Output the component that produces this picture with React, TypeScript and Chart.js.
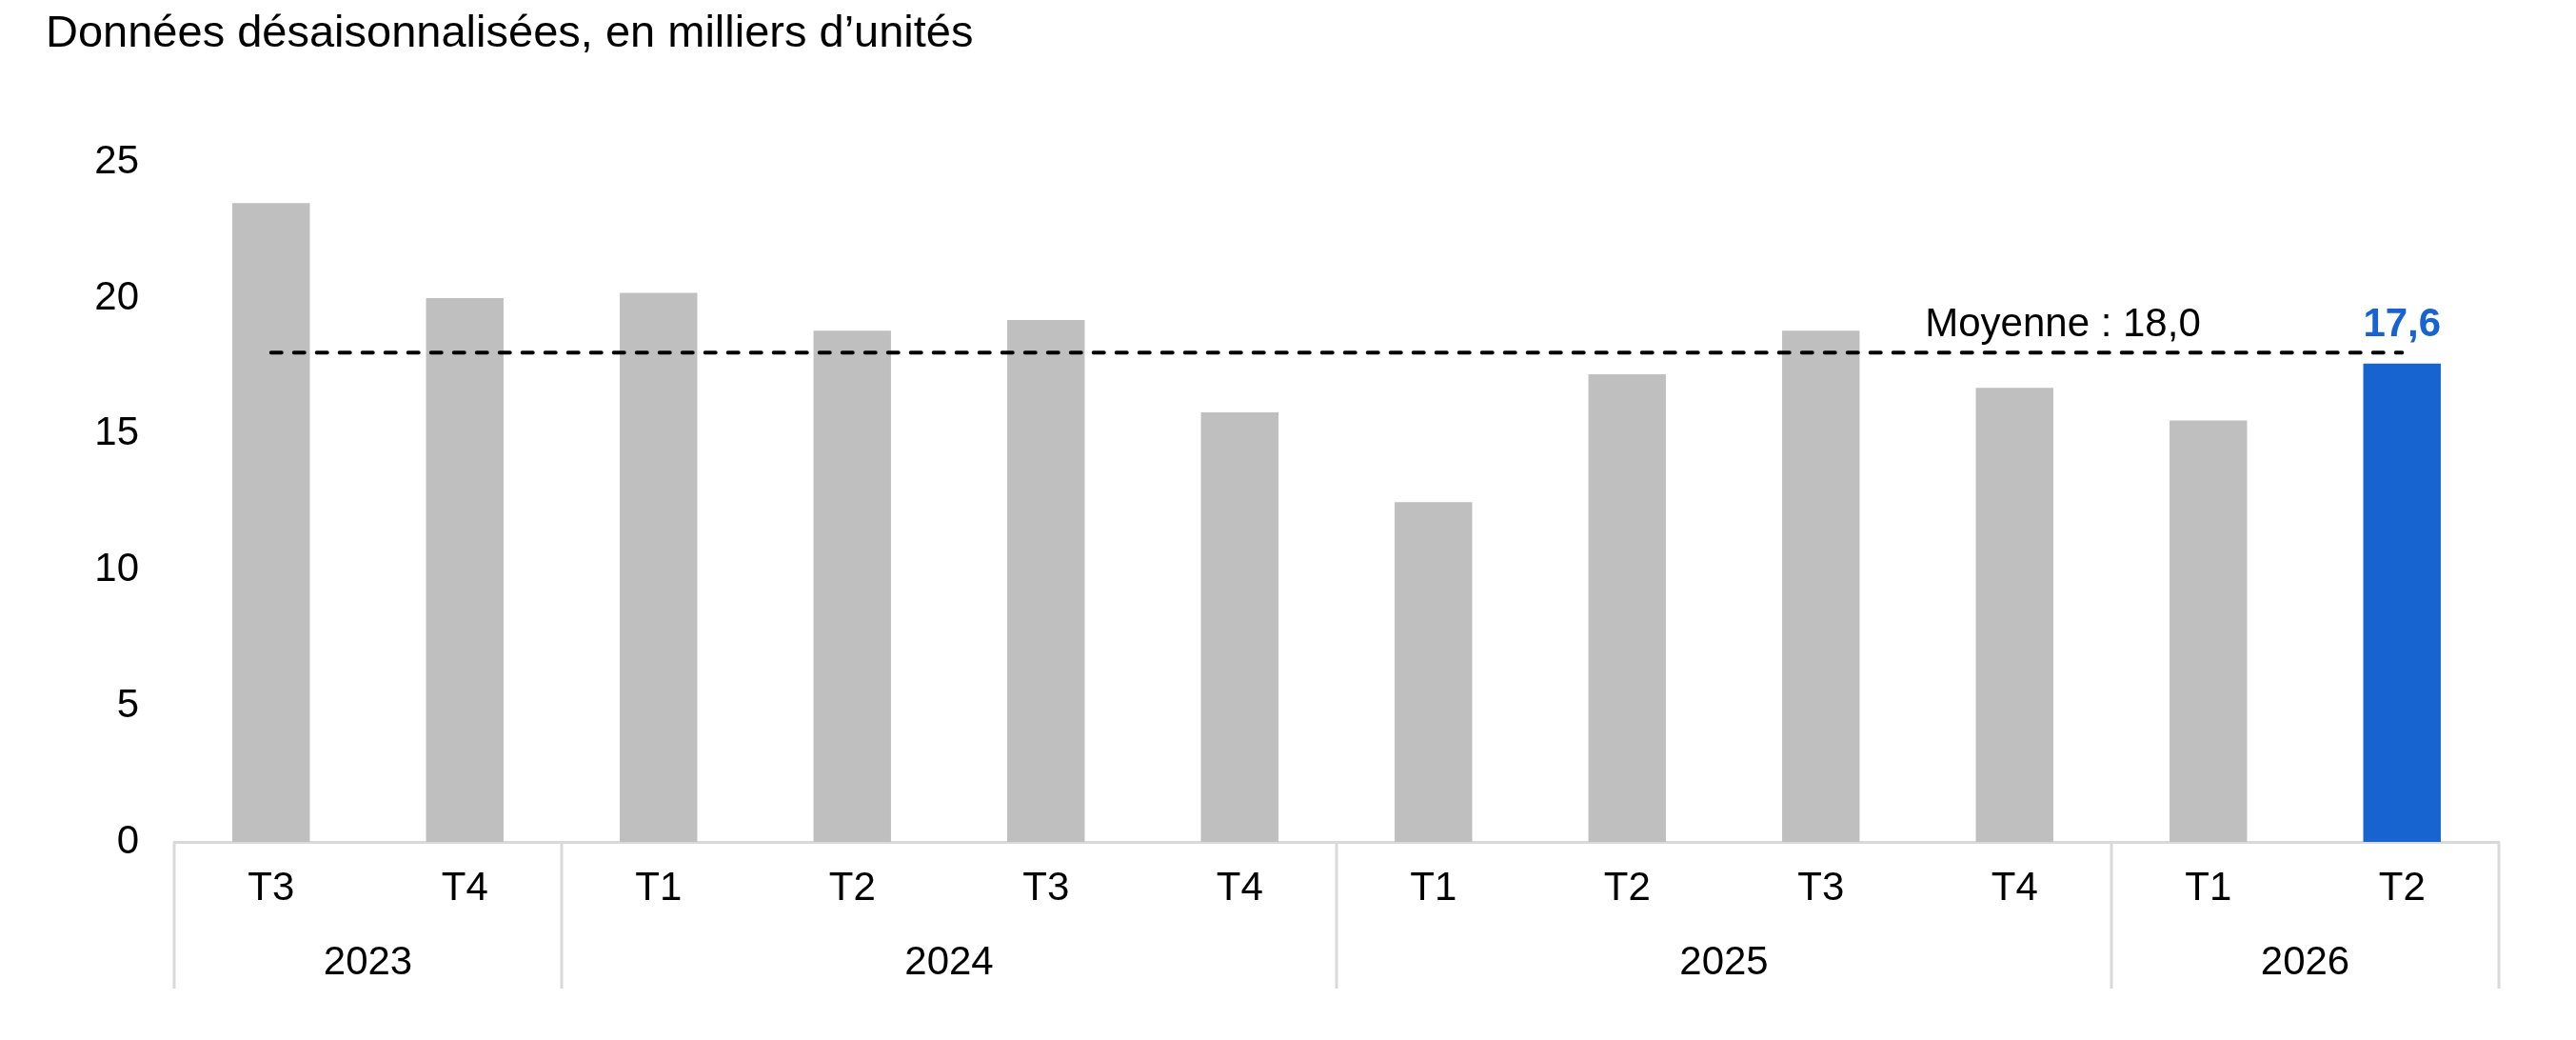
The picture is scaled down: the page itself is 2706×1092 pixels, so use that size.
import React, { useEffect, useRef } from 'react';
import Chart from 'chart.js/auto';

const quarters = ['T3', 'T4', 'T1', 'T2', 'T3', 'T4', 'T1', 'T2', 'T3', 'T4', 'T1', 'T2'];
const years = ['2023', '2024', '2025', '2026'];
const quartersPerYear = [2, 4, 4, 2];
const values = [23.5, 20.0, 20.2, 18.8, 19.2, 15.8, 12.5, 17.2, 18.8, 16.7, 15.5, 17.6];
const average = 18.0;
const yTicks = [0, 5, 10, 15, 20, 25];

const FONT = "'Liberation Sans', Arial, Helvetica, sans-serif";
const GREY = '#bfbfbf';
const BLUE = '#1763cf';
const RULE = '#d9d9d9';

const fmt = (v: number) => v.toFixed(1).replace('.', ',');

// année sous les trimestres + séparateurs verticaux
const yearAxisPlugin = {
  id: 'yearAxis',
  afterDraw(chart: any) {
    const { ctx } = chart;
    const x = chart.scales.x;
    const top = x.top;
    ctx.save();
    ctx.strokeStyle = RULE;
    ctx.lineWidth = 3;
    let start = 0;
    const edges = [start];
    quartersPerYear.forEach((n) => { start += n; edges.push(start); });
    edges.forEach((e) => {
      const px = x.getPixelForValue(e - 0.5);
      ctx.beginPath();
      ctx.moveTo(px, top);
      ctx.lineTo(px, top + 154);
      ctx.stroke();
    });
    ctx.fillStyle = '#000';
    ctx.font = `42px ${FONT}`;
    ctx.textAlign = 'center';
    ctx.textBaseline = 'middle';
    years.forEach((y, i) => {
      const mid = (edges[i] + edges[i + 1] - 1) / 2;
      ctx.fillText(y, x.getPixelForValue(mid), top + 127);
    });
    ctx.restore();
  },
};

// libellé de la moyenne et valeur du dernier trimestre
const labelsPlugin = {
  id: 'labels',
  afterDatasetsDraw(chart: any) {
    const { ctx } = chart;
    const x = chart.scales.x;
    const y = chart.scales.y;
    ctx.save();
    ctx.font = `42px ${FONT}`;
    ctx.fillStyle = '#000';
    ctx.textAlign = 'right';
    ctx.textBaseline = 'alphabetic';
    ctx.fillText(`Moyenne : ${fmt(average)}`, x.getPixelForValue(10) - 8, y.getPixelForValue(average) - 17);

    const last = values.length - 1;
    const bar = chart.getDatasetMeta(1).data[last];
    ctx.font = `bold 42px ${FONT}`;
    ctx.fillStyle = BLUE;
    ctx.textAlign = 'center';
    ctx.fillText(fmt(values[last]), bar.x, bar.y - 29);
    ctx.restore();
  },
};

export default function App() {
  const canvasRef = useRef<HTMLCanvasElement>(null);
  const chartRef = useRef<Chart | null>(null);

  useEffect(() => {
    document.body.style.margin = '0';
    if (!canvasRef.current) return;
    if (chartRef.current) chartRef.current.destroy();

    chartRef.current = new Chart(canvasRef.current, {
      type: 'bar',
      data: {
        labels: quarters,
        datasets: [
          {
            type: 'line',
            label: 'Moyenne',
            data: values.map(() => average),
            borderColor: '#000',
            borderWidth: 4,
            borderDash: [11, 13],
            borderCapStyle: 'round',
            pointRadius: 0,
            fill: false,
            order: 0,
          } as any,
          {
            type: 'bar',
            label: 'Données',
            data: values,
            backgroundColor: values.map((_, i) => (i === values.length - 1 ? BLUE : GREY)),
            barPercentage: 0.4,
            categoryPercentage: 1.0,
            order: 1,
          },
        ],
      },
      options: {
        animation: false,
        responsive: true,
        maintainAspectRatio: false,
        devicePixelRatio: 1,
        layout: { padding: { left: 48, right: 81, top: 0, bottom: 0 } },
        plugins: {
          legend: { display: false },
          tooltip: { enabled: false },
          title: {
            display: true,
            text: 'Données désaisonnalisées, en milliers d\u2019unités',
            align: 'start',
            color: '#000',
            font: { family: FONT, size: 47, weight: 'normal', lineHeight: 1.2 },
            padding: { top: 8, bottom: 106 },
          },
        },
        scales: {
          x: {
            grid: { display: false, drawTicks: false },
            border: { display: true, color: RULE, width: 3 },
            ticks: {
              color: '#000',
              font: { family: FONT, size: 42 },
              padding: 24,
              maxRotation: 0,
              autoSkip: false,
            },
            afterFit: (scale: any) => { scale.height = 208; },
          },
          y: {
            min: 0,
            max: 25,
            grid: { display: false, drawTicks: false },
            border: { display: false },
            afterBuildTicks: (scale: any) => { scale.ticks = yTicks.map((v) => ({ value: v })); },
            ticks: {
              color: '#000',
              font: { family: FONT, size: 42 },
              padding: 37,
            },
            afterFit: (scale: any) => { scale.width = 135; },
          },
        },
      },
      plugins: [yearAxisPlugin, labelsPlugin],
    });

    return () => {
      if (chartRef.current) {
        chartRef.current.destroy();
        chartRef.current = null;
      }
    };
  }, []);

  return (
    <div style={{ position: 'absolute', left: 0, top: 0, width: '2706px', height: '1092px', background: '#fff' }}>
      <canvas ref={canvasRef}></canvas>
    </div>
  );
}
